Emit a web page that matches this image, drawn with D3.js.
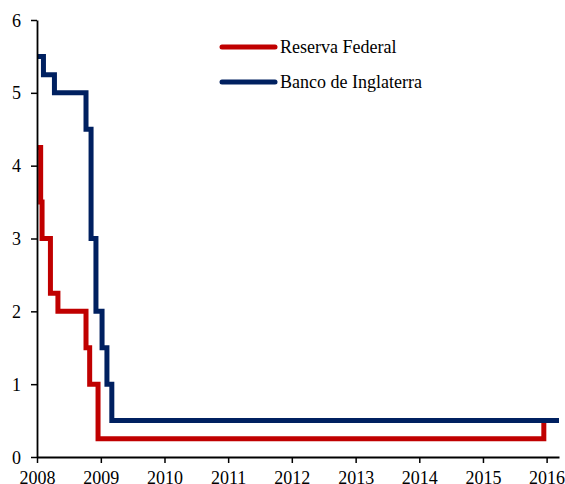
<!DOCTYPE html>
<html>
<head>
<meta charset="utf-8">
<script src="https://cdn.jsdelivr.net/npm/d3@7"></script>
<style>
  body { margin: 0; background: #fff; }
  svg text { font-family: "Liberation Serif", "Times New Roman", serif; font-size: 18px; fill: #000; }
</style>
</head>
<body>
<div id="chart"></div>
<script>
// step changes in policy rates (date, %)
const fedDates = ['2008-01-01', '2008-01-22', '2008-01-30', '2008-03-18', '2008-04-30', '2008-10-08', '2008-10-29', '2008-12-16', '2015-12-16', '2016-03-12'];
const fedRates = [4.25, 3.5, 3.0, 2.25, 2.0, 1.5, 1.0, 0.25, 0.5, 0.5];

const boeDates = ['2008-01-01', '2008-02-07', '2008-04-10', '2008-10-08', '2008-11-06', '2008-12-04', '2009-01-08', '2009-02-05', '2009-03-05', '2016-03-12'];
const boeRates = [5.5, 5.25, 5.0, 4.5, 3.0, 2.0, 1.5, 1.0, 0.5, 0.5];

const seriesNames = ['Reserva Federal', 'Banco de Inglaterra'];
const seriesColors = ['#C00000', '#002060'];
const yearTicks = [2008, 2009, 2010, 2011, 2012, 2013, 2014, 2015, 2016];
const yTicks = [0, 1, 2, 3, 4, 5, 6];

const width = 565, height = 484;
const margin = {top: 20, right: 6, bottom: 27, left: 37};

const parse = d3.timeParse('%Y-%m-%d');
const toPoints = (dates, rates) => dates.map((d, i) => ({date: parse(d), value: rates[i]}));
const series = [toPoints(fedDates, fedRates), toPoints(boeDates, boeRates)];

const x = d3.scaleTime()
  .domain([parse('2008-01-01'), parse('2016-03-12')])
  .range([margin.left, width - margin.right]);

const y = d3.scaleLinear()
  .domain([0, 6])
  .range([height - margin.bottom, margin.top]);

const svg = d3.select('#chart')
  .append('svg')
  .attr('width', width)
  .attr('height', height);

const line = d3.line()
  .curve(d3.curveStepAfter)
  .x(d => x(d.date))
  .y(d => y(d.value));

svg.append('g')
  .selectAll('path')
  .data(series)
  .enter()
  .append('path')
  .attr('d', line)
  .attr('fill', 'none')
  .attr('stroke', (d, i) => seriesColors[i])
  .attr('stroke-width', 5)
  .attr('stroke-linejoin', 'miter');

// axes
const xAxis = svg.append('g')
  .attr('transform', `translate(0,${height - margin.bottom})`)
  .call(d3.axisBottom(x)
    .tickValues(yearTicks.map(yr => new Date(yr, 0, 1)))
    .tickFormat(d3.timeFormat('%Y'))
    .tickSize(6)
    .tickSizeOuter(0)
    .tickPadding(8));

const yAxis = svg.append('g')
  .attr('transform', `translate(${margin.left},0)`)
  .call(d3.axisLeft(y)
    .tickValues(yTicks)
    .tickFormat(d3.format('d'))
    .tickSize(6)
    .tickSizeOuter(0)
    .tickPadding(10));

[xAxis, yAxis].forEach(a => {
  a.select('.domain').attr('stroke', '#000').attr('stroke-width', 1.8);
  a.selectAll('.tick line').attr('stroke', '#000').attr('stroke-width', 1.5);
  a.selectAll('text').attr('font-size', 18).attr('font-family', '"Liberation Serif", serif').attr('fill', '#000');
});
yAxis.selectAll('text').attr('dy', '0.34em');

// legend
const legend = svg.append('g')
  .selectAll('g')
  .data(seriesNames)
  .enter()
  .append('g')
  .attr('transform', (d, i) => `translate(222,${47 + i * 35})`);

legend.append('line')
  .attr('x1', 0)
  .attr('x2', 53)
  .attr('stroke', (d, i) => seriesColors[i])
  .attr('stroke-width', 5)
  .attr('stroke-linecap', 'round');

legend.append('text')
  .attr('x', 58)
  .attr('dy', '0.33em')
  .text(d => d);
</script>
</body>
</html>
